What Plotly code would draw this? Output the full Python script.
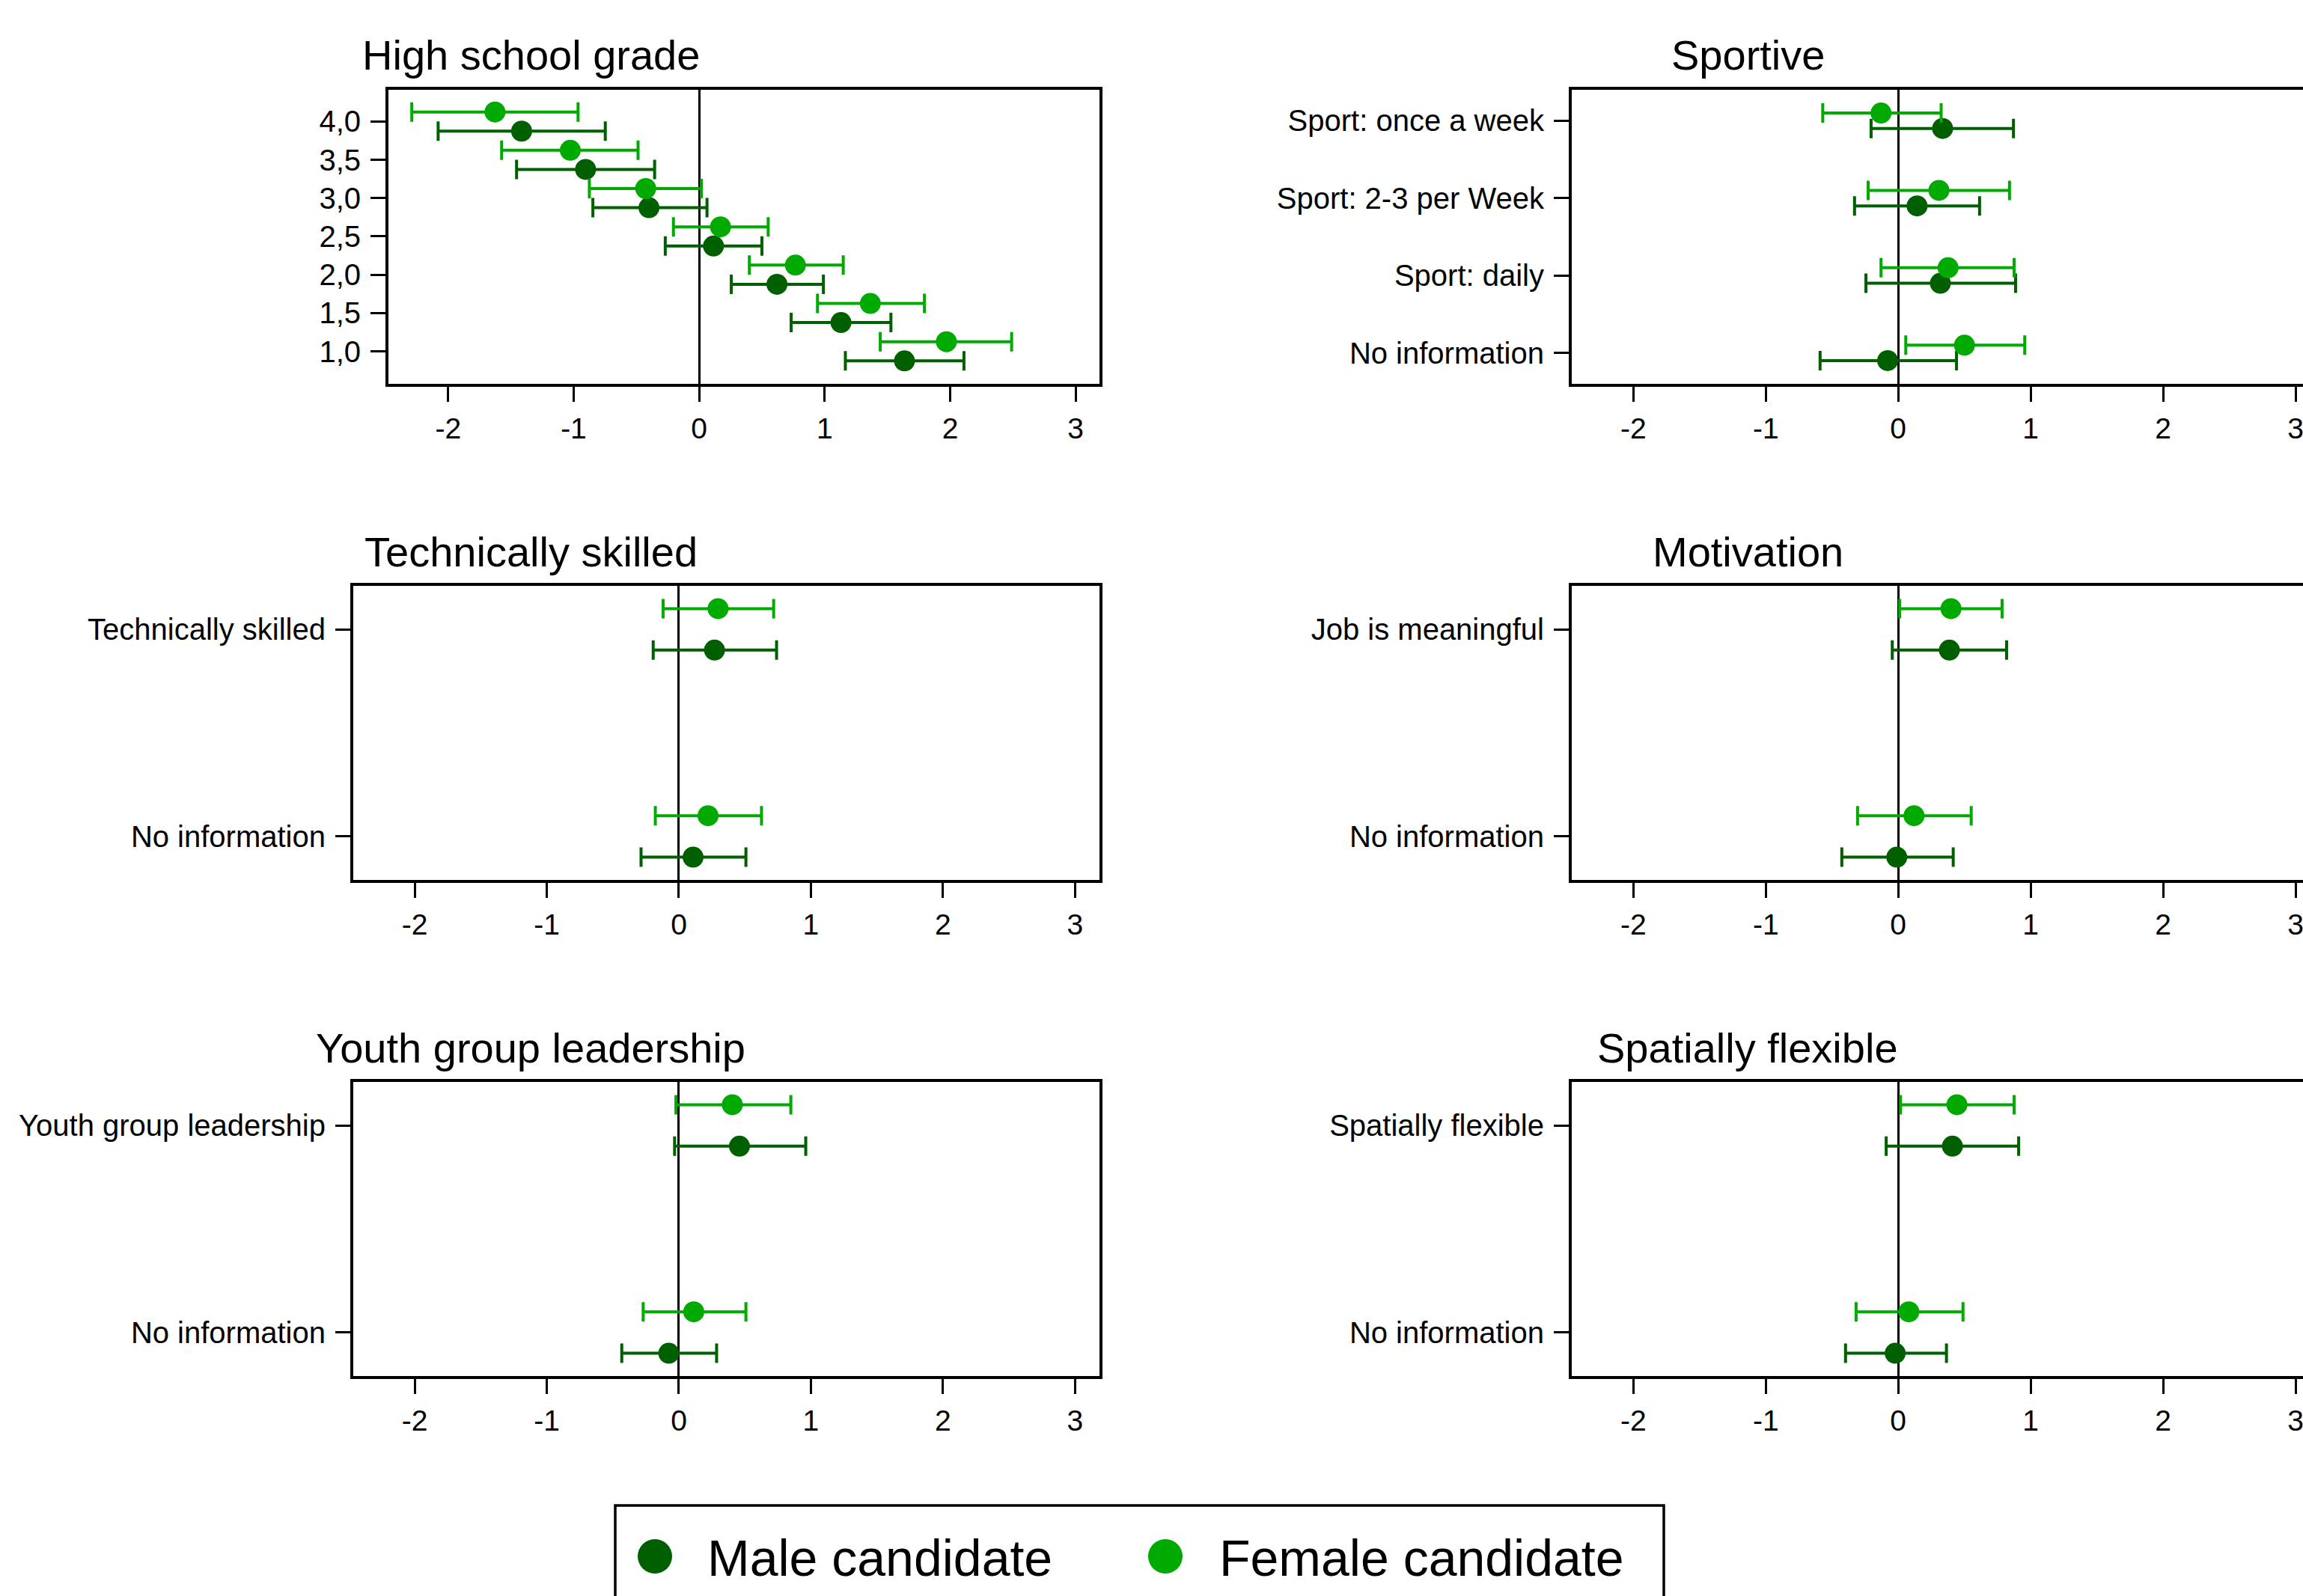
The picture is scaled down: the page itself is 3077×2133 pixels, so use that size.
import plotly.graph_objects as go

# ---------------- data ----------------
grade_labels = ["4,0", "3,5", "3,0", "2,5", "2,0", "1,5", "1,0"]
grade_values = [4.0, 3.5, 3.0, 2.5, 2.0, 1.5, 1.0]
grade_male = [-1.415, -0.905, -0.40, 0.114, 0.62, 1.13, 1.636]
grade_male_lo = [-2.08, -1.455, -0.847, -0.27, 0.256, 0.733, 1.165]
grade_male_hi = [-0.748, -0.355, 0.0625, 0.50, 0.99, 1.528, 2.11]
grade_female = [-1.627, -1.027, -0.426, 0.17, 0.767, 1.364, 1.97]
grade_female_lo = [-2.29, -1.574, -0.875, -0.205, 0.40, 0.943, 1.443]
grade_female_hi = [-0.965, -0.487, 0.017, 0.55, 1.148, 1.795, 2.49]

sport_labels = ["Sport: once a week", "Sport: 2-3 per Week", "Sport: daily", "No information"]
sport_male = [0.335, 0.142, 0.318, -0.08]
sport_male_lo = [-0.205, -0.33, -0.244, -0.59]
sport_male_hi = [0.87, 0.614, 0.886, 0.44]
sport_female = [-0.13, 0.307, 0.376, 0.50]
sport_female_lo = [-0.57, -0.227, -0.13, 0.057]
sport_female_hi = [0.324, 0.84, 0.875, 0.955]

tech_labels = ["Technically skilled", "No information"]
tech_male = [0.27, 0.108]
tech_male_lo = [-0.194, -0.286]
tech_male_hi = [0.74, 0.508]
tech_female = [0.297, 0.221]
tech_female_lo = [-0.119, -0.178]
tech_female_hi = [0.718, 0.626]

motiv_labels = ["Job is meaningful", "No information"]
motiv_male = [0.386, -0.011]
motiv_male_lo = [-0.045, -0.426]
motiv_male_hi = [0.818, 0.415]
motiv_female = [0.398, 0.119]
motiv_female_lo = [0.011, -0.307]
motiv_female_hi = [0.784, 0.551]

youth_labels = ["Youth group leadership", "No information"]
youth_male = [0.459, -0.076]
youth_male_lo = [-0.032, -0.432]
youth_male_hi = [0.961, 0.286]
youth_female = [0.405, 0.113]
youth_female_lo = [-0.022, -0.27]
youth_female_hi = [0.848, 0.508]

spat_labels = ["Spatially flexible", "No information"]
spat_male = [0.409, -0.023]
spat_male_lo = [-0.091, -0.398]
spat_male_hi = [0.909, 0.364]
spat_female = [0.443, 0.08]
spat_female_lo = [0.017, -0.318]
spat_female_hi = [0.875, 0.489]

x_ticks = [-2, -1, 0, 1, 2, 3]
legend_labels = ["Male candidate", "Female candidate"]

# ---------------- style ----------------
MALE = "#006000"
FEMALE = "#00AA00"
FONT = "Liberation Sans, Arial, Helvetica, sans-serif"
W, H = 3077, 2133


def fx(p):
    return p / W


def fy(p):
    return 1 - p / H


panels = [
    dict(title="High school grade", labels=grade_labels, pos=grade_values,
         m=grade_male, mlo=grade_male_lo, mhi=grade_male_hi,
         f=grade_female, flo=grade_female_lo, fhi=grade_female_hi,
         xd=[fx(519), fx(1469)], yd=[fy(513), fy(120)], right=False,
         yr=[0.575, 4.415], up=True, off=0.125, xr=[-2.476, 3.19], tx=709, ty=74),
    dict(title="Sportive", labels=sport_labels, pos=list(range(4)),
         m=sport_male, mlo=sport_male_lo, mhi=sport_male_hi,
         f=sport_female, flo=sport_female_lo, fhi=sport_female_hi,
         xd=[fx(2100), 1.0], yd=[fy(513), fy(120)], right=True,
         yr=[3.4, -0.4], up=False, off=0.1, xr=[-2.465, 3.056], tx=2335, ty=74),
    dict(title="Technically skilled", labels=tech_labels, pos=list(range(2)),
         m=tech_male, mlo=tech_male_lo, mhi=tech_male_hi,
         f=tech_female, flo=tech_female_lo, fhi=tech_female_hi,
         xd=[fx(472), fx(1469)], yd=[fy(1176), fy(783)], right=False,
         yr=[1.21, -0.21], up=False, off=0.1, xr=[-2.465, 3.185], tx=709, ty=737),
    dict(title="Motivation", labels=motiv_labels, pos=list(range(2)),
         m=motiv_male, mlo=motiv_male_lo, mhi=motiv_male_hi,
         f=motiv_female, flo=motiv_female_lo, fhi=motiv_female_hi,
         xd=[fx(2100), 1.0], yd=[fy(1176), fy(783)], right=True,
         yr=[1.21, -0.21], up=False, off=0.1, xr=[-2.465, 3.056], tx=2335, ty=737),
    dict(title="Youth group leadership", labels=youth_labels, pos=list(range(2)),
         m=youth_male, mlo=youth_male_lo, mhi=youth_male_hi,
         f=youth_female, flo=youth_female_lo, fhi=youth_female_hi,
         xd=[fx(472), fx(1469)], yd=[fy(1839), fy(1446)], right=False,
         yr=[1.21, -0.21], up=False, off=0.1, xr=[-2.465, 3.185], tx=709, ty=1400),
    dict(title="Spatially flexible", labels=spat_labels, pos=list(range(2)),
         m=spat_male, mlo=spat_male_lo, mhi=spat_male_hi,
         f=spat_female, flo=spat_female_lo, fhi=spat_female_hi,
         xd=[fx(2100), 1.0], yd=[fy(1839), fy(1446)], right=True,
         yr=[1.21, -0.21], up=False, off=0.1, xr=[-2.465, 3.056], tx=2335, ty=1400),
]

fig = go.Figure()
layout = dict(
    width=W, height=H,
    margin=dict(l=0, r=0, t=0, b=0),
    paper_bgcolor="white", plot_bgcolor="white",
    showlegend=False,
    font=dict(family=FONT, color="black"),
)
annotations = []
shapes = []

for i, p in enumerate(panels):
    k = "" if i == 0 else str(i + 1)
    xa, ya = "x" + k, "y" + k
    # female drawn above the category position, male below
    if p["up"]:
        ym = [v - p["off"] for v in p["pos"]]
        yf = [v + p["off"] for v in p["pos"]]
    else:  # reversed axis: smaller value is higher
        ym = [v + p["off"] for v in p["pos"]]
        yf = [v - p["off"] for v in p["pos"]]
    fig.add_trace(go.Scatter(
        x=p["m"], y=ym, xaxis=xa, yaxis=ya, mode="markers",
        marker=dict(color=MALE, size=28, line=dict(width=0)),
        error_x=dict(type="data", symmetric=False,
                     array=[h - v for h, v in zip(p["mhi"], p["m"])],
                     arrayminus=[v - l for v, l in zip(p["m"], p["mlo"])],
                     color=MALE, thickness=4, width=13),
        name=legend_labels[0]))
    fig.add_trace(go.Scatter(
        x=p["f"], y=yf, xaxis=xa, yaxis=ya, mode="markers",
        marker=dict(color=FEMALE, size=28, line=dict(width=0)),
        error_x=dict(type="data", symmetric=False,
                     array=[h - v for h, v in zip(p["fhi"], p["f"])],
                     arrayminus=[v - l for v, l in zip(p["f"], p["flo"])],
                     color=FEMALE, thickness=4, width=13),
        name=legend_labels[1]))

    layout["xaxis" + k] = dict(
        domain=p["xd"], anchor=ya, range=p["xr"],
        tickvals=x_ticks, ticktext=[str(t) for t in x_ticks],
        ticks="outside", ticklen=20, tickwidth=2.5, tickcolor="black",
        ticklabelstandoff=2, ticklabeloverflow="allow",
        showline=True, linecolor="black", linewidth=4, mirror=True,
        showgrid=False, zeroline=True, zerolinecolor="black", zerolinewidth=2.5,
        tickfont=dict(size=39, family=FONT, color="black"), fixedrange=True)
    layout["yaxis" + k] = dict(
        domain=p["yd"], anchor=xa, range=p["yr"],
        tickvals=p["pos"], ticktext=p["labels"],
        ticks="outside", ticklen=20, tickwidth=3, tickcolor="black",
        ticklabelstandoff=5,
        showline=True, linecolor="black", linewidth=4, mirror=not p["right"],
        showgrid=False, zeroline=False,
        tickfont=dict(size=40, family=FONT, color="black"), fixedrange=True)

    annotations.append(dict(
        text=p["title"], x=fx(p["tx"]), y=fy(p["ty"]), xref="paper", yref="paper",
        xanchor="center", yanchor="middle", showarrow=False,
        font=dict(size=56, family=FONT, color="black")))

# ---------------- legend (drawn manually for large symbols) ----------------
shapes.append(dict(type="rect", xref="paper", yref="paper",
                   x0=fx(822), x1=fx(2223), y0=fy(2160), y1=fy(2012),
                   line=dict(color="black", width=3.5), fillcolor="white", layer="below"))
leg_marker_x = [875, 1557]
leg_text_x = [943, 1627]
leg_colors = [MALE, FEMALE]
for cx, tx, col, lab in zip(leg_marker_x, leg_text_x, leg_colors, legend_labels):
    shapes.append(dict(type="circle", xref="paper", yref="paper",
                       x0=fx(cx - 23), x1=fx(cx + 23), y0=fy(2080 + 23), y1=fy(2080 - 23),
                       line=dict(width=0), fillcolor=col))
    annotations.append(dict(
        text=lab, x=fx(tx), y=fy(2082), xref="paper", yref="paper",
        xanchor="left", yanchor="middle", showarrow=False,
        font=dict(size=68, family=FONT, color="black")))

layout["annotations"] = annotations
layout["shapes"] = shapes
fig.update_layout(**layout)

fig.write_html(
    "out.html",
    config={"displayModeBar": False},
    post_script=("document.body.style.margin='0';"
                 "document.body.style.overflow='hidden';"
                 "document.documentElement.style.overflow='hidden';"),
)
